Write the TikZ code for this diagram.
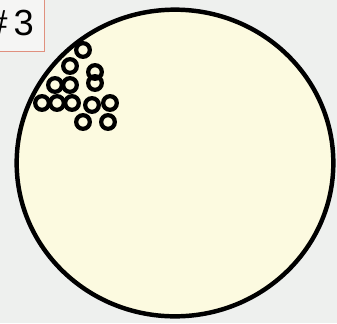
\documentclass[tikz,border=0pt]{standalone}
\usepackage{fontspec}
\setmainfont{Liberation Sans}
\usetikzlibrary{shapes.geometric, positioning}
\definecolor{petriback}{HTML}{EEF0EE}
\definecolor{petrifill}{HTML}{FCFAE0}
\definecolor{tagred}{HTML}{E0907E}
\definecolor{tagfill}{HTML}{F5F5F4}

\begin{document}
\begin{tikzpicture}[
  x=0.03cm, y=-0.03cm,
  dish/.style={ellipse, draw=black, fill=petrifill, line width=3.8pt, minimum width=9.5cm, minimum height=9.2cm, inner sep=0pt},
  ring/.style={circle, draw=black, line width=3.6pt, minimum size=0.41cm, inner sep=0pt},
  tag/.style={draw=tagred, fill=tagfill, line width=0.6pt, text=black}
]
\useasboundingbox (0,0) rectangle (337,323);
\fill[petriback] (0,0) rectangle (337,323);
\clip (0,0) rectangle (337,323);

% plate
\node[dish] (plate) at (175,163) {};

% label
\draw[tag] (-3,-3) rectangle (44,51);
\node[font=\fontsize{31}{31}\selectfont, anchor=base east, inner sep=0pt] (num) at (34,35) {\#\,3};

% colonies
\foreach \cx/\cy [count=\i] in {83/50, 70/66, 95/72, 95/83, 55/85, 70/85, 42/103, 57/103, 72/103, 92/105, 110/103, 83/122, 108/122}
  \node[ring] (c\i) at (\cx,\cy) {};
\end{tikzpicture}
\end{document}
